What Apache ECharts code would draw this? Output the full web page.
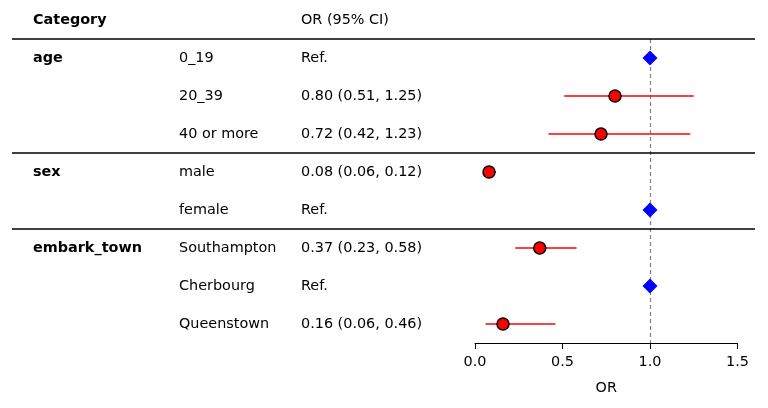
<!DOCTYPE html>
<html>
<head>
<meta charset="utf-8">
<script src="https://cdn.jsdelivr.net/npm/echarts@6/dist/echarts.min.js"></script>
<style>html,body{margin:0;padding:0;background:#fff}#c{width:768px;height:408px}</style>
</head>
<body>
<div id="c"></div>
<script>
var groups = ['age', 'sex', 'embark_town'];
var groupSizes = [3, 2, 3];
var levels = ['0_19', '20_39', '40 or more', 'male', 'female', 'Southampton', 'Cherbourg', 'Queenstown'];
var orVals = [null, 0.80, 0.72, 0.08, null, 0.37, null, 0.16];
var ciLow  = [null, 0.51, 0.42, 0.06, null, 0.23, null, 0.06];
var ciHigh = [null, 1.25, 1.23, 0.12, null, 0.58, null, 0.46];
var xTicks = [0.0, 0.5, 1.0, 1.5];
var refValue = 1.0;

var FONT = 'DejaVu Sans';
var FS = 14.4;

// derived
var groupCol = [];
var boundaries = [0];
var acc = 0;
groups.forEach(function (g, i) {
  for (var k = 0; k < groupSizes[i]; k++) groupCol.push(k === 0 ? g : '');
  acc += groupSizes[i];
  if (i < groups.length - 1) boundaries.push(acc);
});
var orText = levels.map(function (l, i) {
  return orVals[i] == null ? 'Ref.' :
    orVals[i].toFixed(2) + ' (' + ciLow[i].toFixed(2) + ', ' + ciHigh[i].toFixed(2) + ')';
});
var pts = [], refs = [], bars = [];
levels.forEach(function (l, i) {
  if (orVals[i] == null) refs.push([refValue, i]);
  else { pts.push([orVals[i], i]); bars.push([ciLow[i], i, ciHigh[i]]); }
});

var chart = echarts.init(document.getElementById('c'), null, {renderer: 'canvas'});
var ycat = function (data, margin, bold) {
  return {
    type: 'category', gridIndex: 0, data: data, inverse: true, position: 'left',
    axisLine: {show: false}, axisTick: {show: false}, splitLine: {show: false},
    axisLabel: {margin: margin, align: 'left', color: '#000', fontFamily: FONT,
      fontSize: FS, fontWeight: bold ? 'bold' : 'normal', interval: 0, padding: [4, 0, 0, 0]}
  };
};
chart.setOption({
  animation: false,
  textStyle: {fontFamily: FONT},
  grid: [
    {left: 475, right: 30.5, top: 39, bottom: 65},
    {left: 12, right: 13, top: 39, bottom: 65}
  ],
  graphic: [
    {type: 'text', left: 33, top: 13, style: {text: 'Category', font: 'bold ' + FS + 'px "' + FONT + '"', fill: '#000'}},
    {type: 'text', left: 301, top: 13, style: {text: 'OR (95% CI)', font: FS + 'px "' + FONT + '"', fill: '#000'}}
  ],
  xAxis: [
    {type: 'value', gridIndex: 0, min: xTicks[0], max: xTicks[xTicks.length - 1], interval: 0.5,
      axisLine: {show: true, lineStyle: {color: '#000', width: 1}},
      axisTick: {show: true, length: 6, lineStyle: {color: '#000', width: 1}},
      splitLine: {show: false},
      axisLabel: {color: '#000', fontSize: FS, fontFamily: FONT, margin: 12,
        formatter: function (v) { return v.toFixed(1); }},
      name: 'OR', nameLocation: 'middle', nameGap: 38,
      nameTextStyle: {color: '#000', fontSize: FS, fontFamily: FONT}},
    {type: 'value', gridIndex: 1, min: 0, max: 1, show: false}
  ],
  yAxis: [
    ycat(levels, 296, false),
    ycat(groupCol, 442, true),
    ycat(orText, 174, false),
    {type: 'value', gridIndex: 1, min: 0, max: levels.length, inverse: true, show: false}
  ],
  series: [
    {type: 'line', xAxisIndex: 1, yAxisIndex: 3, data: [[0, 0]], silent: true, showSymbol: false,
      lineStyle: {opacity: 0},
      markLine: {silent: true, symbol: 'none', label: {show: false},
        lineStyle: {color: '#000', width: 1.5, type: 'solid'},
        data: boundaries.map(function (b) { return {yAxis: b}; })}},
    {type: 'custom', xAxisIndex: 0, yAxisIndex: 0, z: 2, data: bars,
      renderItem: function (params, api) {
        var a = api.coord([api.value(0), api.value(1)]);
        var b = api.coord([api.value(2), api.value(1)]);
        return {type: 'line', shape: {x1: a[0], y1: a[1], x2: b[0], y2: b[1]},
          style: {stroke: '#ff0000', lineWidth: 1.5}};
      }},
    {type: 'scatter', xAxisIndex: 0, yAxisIndex: 0, z: 4, data: pts, symbol: 'circle', symbolSize: 12,
      itemStyle: {color: '#ff0000', borderColor: '#000', borderWidth: 1.5, opacity: 1},
      markLine: {silent: true, symbol: 'none', label: {show: false}, z: 1,
        lineStyle: {color: '#808080', width: 1.2, type: [4, 3]},
        data: [{xAxis: refValue}]}},
    {type: 'scatter', xAxisIndex: 0, yAxisIndex: 0, z: 4, data: refs, symbol: 'diamond', symbolSize: [15, 15],
      itemStyle: {color: '#0000ff', opacity: 1}}
  ]
});
</script>
</body>
</html>
